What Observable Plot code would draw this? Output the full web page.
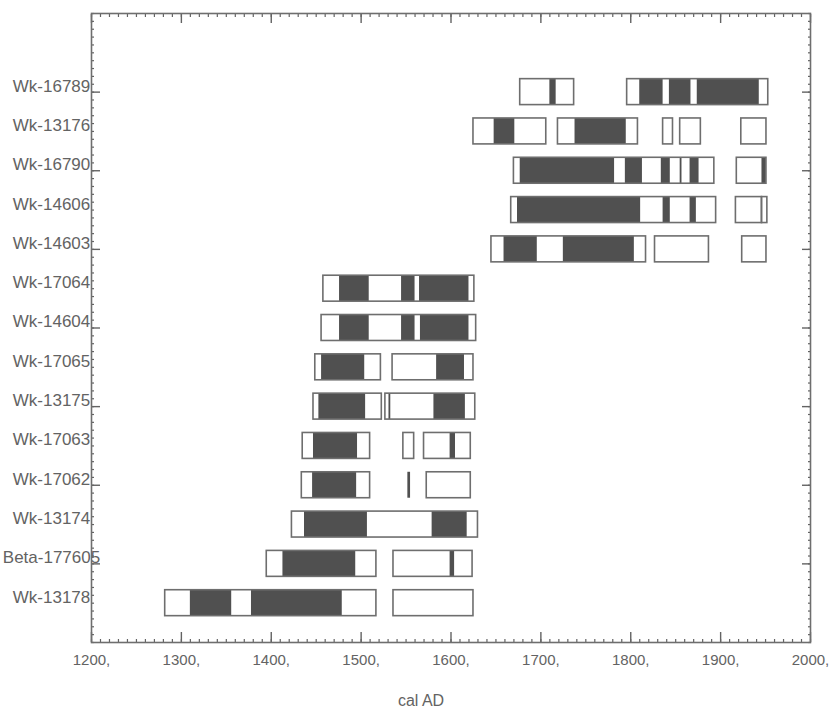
<!DOCTYPE html>
<html><head><meta charset="utf-8">
<script src="https://cdn.jsdelivr.net/npm/d3@7"></script>
<script src="https://cdn.jsdelivr.net/npm/@observablehq/plot@0.6"></script>
<style>body{margin:0;background:#fff} #chart svg{display:block}</style>
</head><body><div id="chart"></div>
<script>
// Sample labels, top to bottom
const labels = ["Wk-16789","Wk-13176","Wk-16790","Wk-14606","Wk-14603","Wk-17064","Wk-14604",
  "Wk-17065","Wk-13175","Wk-17063","Wk-17062","Wk-13174","Beta-177605","Wk-13178"];

// Outer (95%) calibrated ranges: [row, from, to] cal AD
const ranges95 = [
  [1,1677,1737],[1,1796,1953],
  [2,1625,1706],[2,1719,1808],[2,1836,1847],[2,1855,1878],[2,1923,1951],
  [3,1670,1893],[3,1918,1951],
  [4,1667,1895],[4,1917,1946],[4,1946,1952],
  [5,1645,1817],[5,1827,1887],[5,1924,1951],
  [6,1458,1626],
  [7,1456,1628],
  [8,1449,1522],[8,1535,1625],
  [9,1447,1523],[9,1527,1627],
  [10,1435,1510],[10,1547,1559],[10,1570,1622],
  [11,1434,1510],[11,1573,1622],
  [12,1423,1630],
  [13,1395,1517],[13,1536,1624],
  [14,1282,1517],[14,1536,1625]
];

// Inner (68%) calibrated ranges: [row, from, to] cal AD
const ranges68 = [
  [1,1710,1717],[1,1810,1836],[1,1843,1867],[1,1874,1943],
  [2,1648,1671],[2,1738,1795],
  [3,1677,1782],[3,1794,1813],[3,1834,1844],[3,1855,1857],[3,1866,1876],[3,1946,1951],
  [4,1674,1811],[4,1836,1844],[4,1866,1873],
  [5,1659,1696],[5,1725,1804],
  [6,1476,1509],[6,1545,1560],[6,1565,1620],
  [7,1476,1509],[7,1545,1560],[7,1566,1620],
  [8,1456,1504],[8,1584,1615],
  [9,1453,1505],[9,1531,1533],[9,1581,1616],
  [10,1447,1496],[10,1599,1605],
  [11,1446,1495],[11,1552,1555],
  [12,1437,1507],[12,1579,1618],
  [13,1413,1494],[13,1599,1604],
  [14,1310,1356],[14,1378,1479]
];

const xMajorTicks = [1200,1300,1400,1500,1600,1700,1800,1900,2000];
const xMinorTicks = d3.range(1200, 2001, 10);
const yMajorTicks = [1,3,5,7,9,11,13];
const yMinorTicks = d3.range(0, 81).map(i => -1 + i * 0.2);
const rows = labels.map((_, i) => i + 1);

const toObj = ([row, from, to]) => ({row, from, to});
const outer = ranges95.map(toObj);
const inner = ranges68.map(toObj);
const half = 0.33;
const boxStroke = "#6e6e6e";
const empty = () => "";

const chart = Plot.plot({
  width: 833, height: 711,
  marginLeft: 91, marginRight: 23, marginTop: 13, marginBottom: 69,
  x: {domain: [1200, 2000]},
  y: {domain: [-1, 15], reverse: true},
  style: {fontFamily: "'Liberation Sans', Arial, sans-serif", color: "#636363", background: "#fff"},
  marks: [
    Plot.rect(outer, {x1: "from", x2: "to", y1: d => d.row - half, y2: d => d.row + half, fill: "#fff"}),
    Plot.rect(inner, {x1: "from", x2: "to", y1: d => d.row - half, y2: d => d.row + half, fill: "#505050"}),
    Plot.rect(outer, {x1: "from", x2: "to", y1: d => d.row - half, y2: d => d.row + half, fill: "none", stroke: boxStroke, strokeWidth: 1.6}),
    // bottom axis
    Plot.axisX(xMinorTicks, {anchor: "bottom", tickSize: -3, tickFormat: empty, strokeWidth: 1.2}),
    Plot.axisX(xMajorTicks, {anchor: "bottom", tickSize: -10, tickFormat: empty, strokeWidth: 1.4}),
    Plot.axisX(xMajorTicks, {anchor: "bottom", tickSize: 0, tickPadding: 12, fontSize: 15, tickFormat: d => d + ","}),
    // top axis
    Plot.axisX(xMinorTicks, {anchor: "top", tickSize: -3, tickFormat: empty, strokeWidth: 1.2}),
    Plot.axisX(xMajorTicks, {anchor: "top", tickSize: -9, tickFormat: empty, strokeWidth: 1.4}),
    // left axis
    Plot.axisY(yMinorTicks, {anchor: "left", tickSize: -3, tickFormat: empty, strokeWidth: 1.2}),
    Plot.axisY(yMajorTicks, {anchor: "left", tickSize: -9, tickFormat: empty, strokeWidth: 1.4}),
    Plot.axisY(rows, {anchor: "left", tickSize: 0, tickPadding: 40, textAnchor: "middle", fontSize: 17, dy: -6, tickFormat: i => labels[i - 1]}),
    // right axis
    Plot.axisY(yMinorTicks, {anchor: "right", tickSize: -3, tickFormat: empty, strokeWidth: 1.2}),
    Plot.axisY(yMajorTicks, {anchor: "right", tickSize: -9, tickFormat: empty, strokeWidth: 1.4}),
    Plot.frame({stroke: "#6e6e6e", strokeWidth: 1.6}),
    Plot.text(["cal AD"], {frameAnchor: "bottom", dx: -30, dy: 63, fontSize: 16, fill: "#636363"})
  ]
});
document.getElementById("chart").appendChild(chart);
</script>
</body></html>
